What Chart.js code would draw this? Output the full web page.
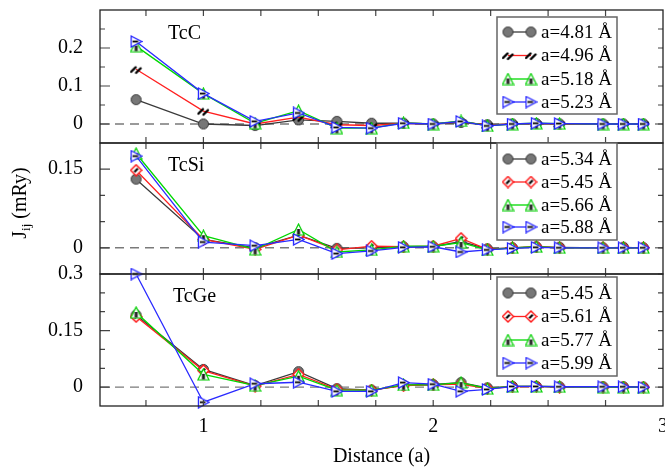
<!DOCTYPE html>
<html>
<head>
<meta charset="utf-8">
<script src="https://cdn.jsdelivr.net/npm/chart.js@4"></script>
<style>
  body { margin: 0; background: #fff; }
  #wrap { position: relative; width: 665px; height: 472px; }
  canvas { position: absolute; left: 0; top: 0; }
</style>
</head>
<body>
<div id="wrap">
  <canvas id="tcc" width="665" height="472"></canvas>
  <canvas id="tcsi" width="665" height="472"></canvas>
  <canvas id="tcge" width="665" height="472"></canvas>
</div>
<script>
// neighbour distances (units of a)
const distance = [0.707, 1.0, 1.225, 1.414, 1.581, 1.732, 1.871, 2.0, 2.121, 2.236, 2.345, 2.449, 2.55, 2.739, 2.828, 2.915]

// TcC
const tccLabels = ['a=4.81 Å', 'a=4.96 Å', 'a=5.18 Å', 'a=5.23 Å']
const tcc481 = [0.064, 0.0, -0.004, 0.011, 0.007, 0.002, 0.002, 0.0, 0.004, -0.002, 0.0, 0.001, 0.0, 0.0, 0.0, 0.0]
const tcc496 = [0.144, 0.034, 0.0, 0.018, -0.002, -0.004, 0.002, 0.0, 0.006, -0.003, 0.0, 0.001, 0.0, 0.0, 0.0, 0.0]
const tcc518 = [0.205, 0.080, 0.002, 0.035, -0.011, -0.011, 0.003, 0.0, 0.008, -0.005, 0.0, 0.002, 0.001, 0.0, 0.0, 0.0]
const tcc523 = [0.217, 0.080, 0.007, 0.029, -0.009, -0.011, 0.002, 0.0, 0.007, -0.005, 0.0, 0.002, 0.001, 0.0, 0.0, 0.0]

// TcSi
const tcsiLabels = ['a=5.34 Å', 'a=5.45 Å', 'a=5.66 Å', 'a=5.88 Å']
const tcsi534 = [0.131, 0.016, 0.0, 0.024, -0.001, 0.0, 0.002, 0.002, 0.012, -0.002, 0.0, 0.002, 0.001, 0.0, 0.001, 0.0]
const tcsi545 = [0.148, 0.016, -0.003, 0.024, -0.004, 0.003, 0.002, 0.003, 0.018, -0.003, 0.0, 0.002, 0.0, 0.0, 0.0, 0.0]
const tcsi566 = [0.180, 0.023, -0.003, 0.035, -0.008, -0.004, 0.003, 0.003, 0.010, -0.004, 0.0, 0.002, 0.0, 0.0, 0.0, 0.0]
const tcsi588 = [0.175, 0.011, 0.004, 0.016, -0.011, -0.006, 0.001, 0.002, -0.008, -0.004, -0.001, 0.001, 0.0, 0.0, 0.0, 0.0]

// TcGe
const tcgeLabels = ['a=5.45 Å', 'a=5.61 Å', 'a=5.77 Å', 'a=5.99 Å']
const tcge545 = [0.191, 0.047, 0.004, 0.041, -0.004, -0.008, 0.005, 0.007, 0.012, -0.002, 0.002, 0.002, 0.001, 0.001, 0.001, 0.0]
const tcge561 = [0.187, 0.044, 0.003, 0.034, -0.006, -0.008, 0.004, 0.006, 0.008, -0.004, 0.001, 0.002, 0.0, 0.0, 0.0, 0.0]
const tcge577 = [0.198, 0.034, 0.004, 0.029, -0.008, -0.008, 0.006, 0.006, 0.012, -0.004, 0.002, 0.002, 0.001, 0.0, 0.0, 0.0]
const tcge599 = [0.300, -0.040, 0.009, 0.013, -0.011, -0.011, 0.012, 0.008, -0.011, -0.006, 0.002, 0.002, 0.001, 0.001, 0.001, 0.0]

// axis ticks
const xLabelTicks = [1, 2, 3]
const xTickMarks = [0.75, 1, 1.25, 1.5, 1.75, 2, 2.25, 2.5, 2.75]
const tccYLabels = [0, 0.1, 0.2]
const tccYMinor = [0.05, 0.15, 0.25]
const tcsiYLabels = [0, 0.15]
const tcsiYMinor = [0.05, 0.1]
const tcgeYLabels = [0, 0.15, 0.3]
const tcgeYMinor = [0.05, 0.1, 0.2, 0.25]

const lineColors = ['#3a3a3a', '#ff2020', '#00d800', '#2a2aff']
const serif = "'Liberation Serif', 'Times New Roman', serif"
Chart.defaults.font.family = serif
Chart.defaults.color = '#000'

// marker images
function mk(draw) {
  const c = document.createElement('canvas')
  c.width = 13; c.height = 13
  draw(c.getContext('2d'))
  return c
}
const mCircle = mk(ctx => {
  ctx.beginPath(); ctx.arc(6.5, 6.5, 5, 0, Math.PI * 2)
  ctx.fillStyle = '#777'; ctx.fill()
  ctx.strokeStyle = '#333'; ctx.lineWidth = 1; ctx.stroke()
})
const mSlash = mk(ctx => {
  ctx.strokeStyle = '#000'; ctx.lineWidth = 2.4; ctx.lineCap = 'round'
  ctx.beginPath(); ctx.moveTo(1.5, 9); ctx.lineTo(6, 4.5); ctx.stroke()
  ctx.beginPath(); ctx.moveTo(6.5, 10); ctx.lineTo(11, 5.5); ctx.stroke()
})
const mDiamond = mk(ctx => {
  ctx.beginPath(); ctx.moveTo(6.5, 1); ctx.lineTo(12, 6.5); ctx.lineTo(6.5, 12); ctx.lineTo(1, 6.5); ctx.closePath()
  ctx.fillStyle = '#fff'; ctx.fill()
  ctx.strokeStyle = '#ff1a1a'; ctx.lineWidth = 1.5; ctx.stroke()
  ctx.strokeStyle = '#000'; ctx.lineWidth = 2.2
  ctx.beginPath(); ctx.moveTo(4.8, 8.2); ctx.lineTo(8.2, 4.8); ctx.stroke()
})
const mTriangle = mk(ctx => {
  ctx.beginPath(); ctx.moveTo(6.5, 1); ctx.lineTo(12, 12); ctx.lineTo(1, 12); ctx.closePath()
  ctx.fillStyle = '#fff'; ctx.fill()
  ctx.strokeStyle = '#00d000'; ctx.lineWidth = 1.2; ctx.stroke()
  ctx.strokeStyle = '#000'; ctx.lineWidth = 0.9
  ;[5.3, 6.5, 7.7].forEach(x => { ctx.beginPath(); ctx.moveTo(x, 6); ctx.lineTo(x, 11.5); ctx.stroke() })
})
const mRight = mk(ctx => {
  ctx.beginPath(); ctx.moveTo(1.5, 1); ctx.lineTo(12, 6.5); ctx.lineTo(1.5, 12); ctx.closePath()
  ctx.fillStyle = '#fff'; ctx.fill()
  ctx.strokeStyle = '#2020ff'; ctx.lineWidth = 1.3; ctx.stroke()
  ctx.strokeStyle = '#000'; ctx.lineWidth = 1.8
  ctx.beginPath(); ctx.moveTo(3, 6.5); ctx.lineTo(8.5, 6.5); ctx.stroke()
})

const panels = [
  { id: 'tcc', name: 'TcC', nameX: 168, nameY: 39, labels: tccLabels, series: [tcc481, tcc496, tcc518, tcc523],
    markers: [mCircle, mSlash, mTriangle, mRight], yMin: -0.05, yMax: 0.3, yLabels: tccYLabels, yMinor: tccYMinor,
    top: 10, bottom: 143, legendTop: 17, legendBottom: 114, rows: [32, 55.5, 79, 102] },
  { id: 'tcsi', name: 'TcSi', nameX: 168, nameY: 171, labels: tcsiLabels, series: [tcsi534, tcsi545, tcsi566, tcsi588],
    markers: [mCircle, mDiamond, mTriangle, mRight], yMin: -0.05, yMax: 0.2, yLabels: tcsiYLabels, yMinor: tcsiYMinor,
    top: 143, bottom: 274, legendTop: 143, legendBottom: 240, rows: [159, 182, 205, 227], yTitle: true },
  { id: 'tcge', name: 'TcGe', nameX: 173, nameY: 302, labels: tcgeLabels, series: [tcge545, tcge561, tcge577, tcge599],
    markers: [mCircle, mDiamond, mTriangle, mRight], yMin: -0.05, yMax: 0.3, yLabels: tcgeYLabels, yMinor: tcgeYMinor,
    top: 274, bottom: 406, legendTop: 277, legendBottom: 376, rows: [293, 316.5, 340, 363], xAxis: true }
]

function makeFrame(p) {
  return {
    id: 'frame_' + p.id,
    beforeDatasetsDraw(chart) {
      const { ctx, chartArea: a, scales: { y } } = chart
      const y0 = y.getPixelForValue(0)
      ctx.save()
      ctx.strokeStyle = '#7a7a7a'; ctx.lineWidth = 1.4; ctx.setLineDash([9, 6])
      ctx.beginPath(); ctx.moveTo(a.left, y0); ctx.lineTo(a.right, y0); ctx.stroke()
      ctx.restore()
    },
    afterDatasetsDraw(chart) {
      const { ctx, chartArea: a, scales: { x, y } } = chart
      ctx.save()
      // inward ticks
      ctx.strokeStyle = '#444'; ctx.lineWidth = 1.2
      xTickMarks.forEach(v => {
        const px = x.getPixelForValue(v)
        ctx.beginPath(); ctx.moveTo(px, a.top); ctx.lineTo(px, a.top + 6)
        ctx.moveTo(px, a.bottom); ctx.lineTo(px, a.bottom - 6); ctx.stroke()
      })
      p.yLabels.concat(p.yMinor).forEach(v => {
        const py = y.getPixelForValue(v)
        const len = p.yLabels.includes(v) ? 10 : 5
        ctx.beginPath(); ctx.moveTo(a.left, py); ctx.lineTo(a.left + len, py)
        ctx.moveTo(a.right, py); ctx.lineTo(a.right - 5, py); ctx.stroke()
      })
      // frame
      ctx.strokeStyle = '#222'; ctx.lineWidth = 1.3
      ctx.strokeRect(a.left, a.top, a.right - a.left, a.bottom - a.top)
      // panel name
      ctx.fillStyle = '#000'; ctx.font = '20px ' + serif; ctx.textBaseline = 'alphabetic'
      ctx.fillText(p.name, p.nameX, p.nameY)
      // legend box
      const lx = 497, lw = 120
      ctx.fillStyle = '#fff'
      ctx.fillRect(lx, p.legendTop, lw, p.legendBottom - p.legendTop)
      ctx.strokeStyle = '#666'; ctx.lineWidth = 1.5
      ctx.strokeRect(lx, p.legendTop, lw, p.legendBottom - p.legendTop)
      ctx.font = '19px ' + serif; ctx.textBaseline = 'middle'; ctx.fillStyle = '#000'
      p.labels.forEach((lab, i) => {
        const ry = p.rows[i]
        ctx.strokeStyle = lineColors[i]; ctx.lineWidth = 1.3
        ctx.beginPath(); ctx.moveTo(508, ry); ctx.lineTo(531, ry); ctx.stroke()
        const m = p.markers[i]
        ctx.drawImage(m, 508 - m.width / 2, ry - m.height / 2)
        ctx.drawImage(m, 531 - m.width / 2, ry - m.height / 2)
        ctx.fillText(lab, 541, ry + 1)
      })
      // shared y title
      if (p.yTitle) {
        ctx.translate(19, 203); ctx.rotate(-Math.PI / 2)
        ctx.textBaseline = 'alphabetic'
        const big = '20px ' + serif, small = '13px ' + serif
        ctx.font = big; const wJ = ctx.measureText('J').width, wR = ctx.measureText(' (mRy)').width
        ctx.font = small; const wS = ctx.measureText('ij').width
        let sx = -(wJ + wS + wR) / 2
        ctx.font = big; ctx.fillText('J', sx, 7); sx += wJ
        ctx.font = small; ctx.fillText('ij', sx, 11); sx += wS
        ctx.font = big; ctx.fillText(' (mRy)', sx, 7)
      }
      ctx.restore()
    }
  }
}

panels.forEach(p => {
  new Chart(document.getElementById(p.id), {
    type: 'line',
    data: {
      datasets: p.series.map((vals, i) => ({
        label: p.labels[i],
        data: vals.map((v, k) => ({ x: distance[k], y: v })),
        borderColor: lineColors[i],
        backgroundColor: lineColors[i],
        borderWidth: 1.3,
        pointStyle: p.markers[i],
        pointRadius: 6,
        tension: 0,
        clip: false,
        order: 4 - i
      }))
    },
    options: {
      responsive: false,
      animation: false,
      events: [],
      layout: { autoPadding: false, padding: { top: p.top, bottom: p.xAxis ? 0 : 472 - p.bottom, left: 0, right: 2 } },
      plugins: { legend: { display: false }, tooltip: { enabled: false } },
      scales: {
        x: {
          type: 'linear', min: 0.55, max: 3.0,
          display: !!p.xAxis,
          grid: { display: false, drawTicks: false }, border: { display: false },
          afterBuildTicks: s => { s.ticks = xLabelTicks.map(v => ({ value: v })) },
          afterFit: s => {
            if (p.xAxis) s.height = 66
            s.paddingLeft = 0; s.paddingRight = 0
          },
          ticks: { font: { size: 20 }, padding: 9, maxRotation: 0, autoSkip: false, callback: v => String(v) },
          title: { display: true, text: 'Distance (a)', font: { size: 20 }, padding: { top: 3, bottom: 3 } }
        },
        y: {
          min: p.yMin, max: p.yMax,
          grid: { display: false, drawTicks: false }, border: { display: false },
          afterBuildTicks: s => { s.ticks = p.yLabels.map(v => ({ value: v })) },
          afterFit: s => { s.width = 100; s.paddingTop = 0; s.paddingBottom = 0 },
          ticks: { font: { size: 20 }, padding: 17, autoSkip: false, callback: v => String(v) }
        }
      }
    },
    plugins: [makeFrame(p)]
  })
})
</script>
</body>
</html>
